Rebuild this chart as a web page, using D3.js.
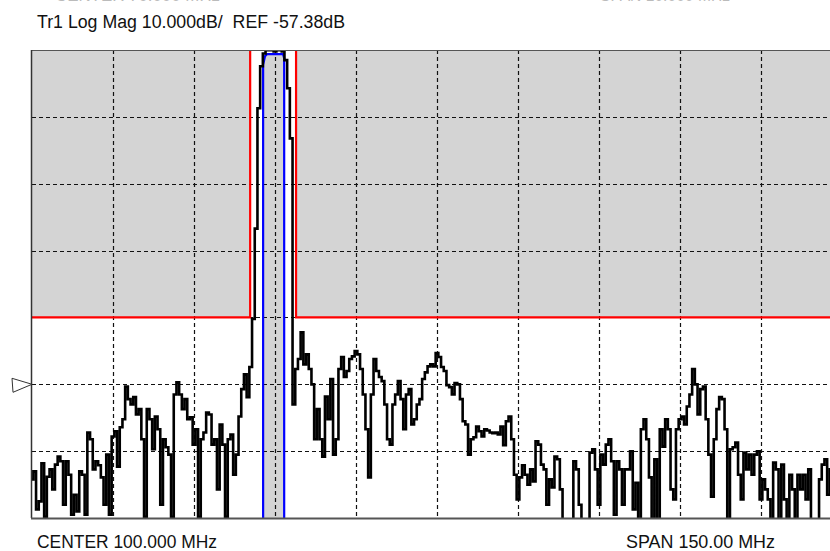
<!DOCTYPE html>
<html>
<head>
<meta charset="utf-8">
<script src="https://cdn.jsdelivr.net/npm/d3@7"></script>
<style>
body { margin: 0; background: #fff; overflow: hidden; }
text { font-family: "Liberation Sans", Arial, sans-serif; }
</style>
</head>
<body>
<div id="chart"></div>
<script>
// sweep: 25..175 MHz, 0.5 MHz per point
var startMHz = 25, stopMHz = 175, stepMHz = 0.5;
var refDb = -57.38, dbPerDiv = 10;

var traceDb = [
 -71.6,-70.4,-76.1,-74.9,-69.2,-77.2,-71.2,-70.1,-73.1,-69.4,
 -68.2,-68.9,-75.4,-68.9,-70.9,-76.9,-73.9,-76.4,-70.4,-70.9,
 -76.9,-64.6,-65.6,-70.1,-68.9,-69.5,-71.3,-75.4,-67.9,-76.9,
 -65.2,-64.4,-69.7,-63.8,-62.6,-57.7,-59.6,-60.4,-59.3,-61.9,
 -61.1,-65.6,-77.2,-61.1,-62.6,-67.1,-62.2,-64.1,-75.4,-65.6,
 -66.8,-67.9,-77.2,-58.9,-57.1,-58.9,-61.1,-59.6,-62.6,-62.3,
 -66.4,-64.1,-77.2,-65.6,-64.6,-61.6,-61.9,-66.4,-65.6,-73.1,
 -63.4,-66.4,-77.2,-65.6,-64.9,-70.9,-67.9,-62.2,-58.1,-55.9,
 -59.3,-54.8,-47.6,-34.1,-16.1,-9.8,-7.9,-7.4,-7.4,-7.4,
 -7.6,-7.4,-7.4,-7.6,-8.9,-13.1,-20.6,-60.4,-55.1,-53.6,
 -49.6,-54.4,-52.9,-55.1,-57.4,-65.6,-61.1,-65.6,-68.2,-59.2,
 -62.6,-56.6,-67.9,-65.6,-55.1,-53.3,-56.3,-55.4,-53.6,-53.2,
 -52.4,-52.9,-55.1,-58.9,-64.1,-71.3,-58.9,-53.6,-55.4,-56.3,
 -56.9,-60.4,-65.6,-66.4,-60.4,-58.9,-56.9,-59.6,-64.1,-58.9,
 -58.1,-63.4,-62.6,-60.4,-59.6,-56.6,-55.6,-54.7,-54.4,-54.7,
 -52.7,-53.3,-54.8,-55.4,-57.5,-57.8,-58.9,-57.2,-57.4,-59.6,
 -62.9,-63.4,-67.9,-65.6,-65.3,-63.7,-64.4,-65.2,-64.1,-64.3,
 -64.6,-64.7,-64.6,-64.9,-63.7,-66.5,-62.9,-62.2,-65.6,-70.9,
 -74.6,-71.3,-69.5,-70.9,-72.4,-70.1,-71.9,-65.9,-66.4,-69.4,
 -70.1,-75.4,-71.6,-72.8,-68.2,-68.6,-73.1,-78.4,-79.1,-79.1,
 -77.6,-68.9,-70.1,-75.4,-78.4,-79.1,-78.4,-67.6,-67.1,-70.1,
 -75.4,-67.9,-69.4,-66.4,-65.6,-68.9,-76.9,-68.9,-70.1,-75.4,
 -70.1,-70.1,-67.4,-76.1,-72.1,-78.4,-64.1,-62.6,-65.6,-71.3,
 -78.4,-68.6,-78.4,-64.1,-66.7,-62.6,-64.1,-73.1,-74.6,-64.1,
 -62.6,-62.2,-63.4,-60.7,-58.9,-55.1,-57.4,-61.9,-58.1,-57.7,
 -62.6,-67.9,-74.2,-65.6,-61.1,-59.3,-59.6,-64.1,-78.4,-67.1,
 -66.8,-66.1,-70.9,-74.6,-67.6,-70.1,-67.9,-70.9,-67.9,-67.4,
 -74.6,-71.6,-73.1,-74.6,-78.4,-69.1,-70.1,-79.1,-69.4,-74.6,
 -77.6,-70.9,-73.1,-78.4,-70.9,-73.1,-70.9,-74.6,-70.1,-78.4,
 -78.4,-77.6,-71.6,-69.4,-68.6,-73.9,-70.1,-71.6,-74.6,-70.1,
 -73.1
];

// limit lines
var upperFreq = [25, 65.4, 65.4, 73.9, 73.9, 175];
var upperDb   = [-47.38, -47.38, -7.38, -7.38, -47.38, -47.38];
var lowerFreq = [67.8, 67.8, 68.15, 68.5, 71.5, 71.7, 71.7];
var lowerDb   = [-77.38, -9.6, -8.3, -8.0, -8.0, -8.6, -77.38];

var W = 830, H = 551;
var pLeft = 32, pRight = 842, pTop = 50, pBottom = 518;

var dbTop = refDb + 5 * dbPerDiv, dbBottom = refDb - 2 * dbPerDiv;

var x = d3.scaleLinear().domain([startMHz, stopMHz]).range([pLeft, pRight]);
var y = d3.scaleLinear().domain([dbBottom, dbTop]).range([pBottom, pTop]);

var svg = d3.select("#chart").append("svg")
    .attr("width", W)
    .attr("height", H);

svg.append("clipPath").attr("id", "plot")
  .append("rect")
    .attr("x", pLeft).attr("y", pTop)
    .attr("width", pRight - pLeft).attr("height", pBottom - pTop);

var g = svg.append("g").attr("clip-path", "url(#plot)");

var upper = upperFreq.map(function(f, i) { return [f, upperDb[i]]; });
var lower = lowerFreq.map(function(f, i) { return [f, lowerDb[i]]; });

var line = d3.line()
    .x(function(d) { return x(d[0]); })
    .y(function(d) { return y(d[1]); });

// gray fail regions
g.append("path")
    .attr("d", line(upper.concat([[stopMHz, dbTop], [startMHz, dbTop]])) + "Z")
    .attr("fill", "#d4d4d4");
g.append("path")
    .attr("d", line(lower) + "Z")
    .attr("fill", "#d4d4d4");

// grid
var xDivs = d3.range(1, 10).map(function(k) { return startMHz + k * (stopMHz - startMHz) / 10; });
var yDivs = d3.range(1, 7).map(function(k) { return dbBottom + k * dbPerDiv; });

g.selectAll(".vg").data(xDivs).enter().append("line")
    .attr("x1", function(d) { return Math.round(x(d)) + 0.5; })
    .attr("x2", function(d) { return Math.round(x(d)) + 0.5; })
    .attr("y1", pTop).attr("y2", pBottom)
    .attr("stroke", "#111").attr("stroke-width", 1.2)
    .attr("stroke-dasharray", "4,3");

g.selectAll(".hg").data(yDivs).enter().append("line")
    .attr("x1", pLeft).attr("x2", pRight)
    .attr("y1", function(d) { return Math.round(y(d)) + 0.5; })
    .attr("y2", function(d) { return Math.round(y(d)) + 0.5; })
    .attr("stroke", "#111").attr("stroke-width", 1.2)
    .attr("stroke-dasharray", "4,3");

// limit lines
g.append("path")
    .attr("d", line(upper))
    .attr("fill", "none").attr("stroke", "#ff0000").attr("stroke-width", 2.2);
g.append("path")
    .attr("d", line(lower))
    .attr("fill", "none").attr("stroke", "#0000ff").attr("stroke-width", 2.2);

// trace
g.append("path")
    .datum(traceDb)
    .attr("d", d3.line()
        .curve(d3.curveStep)
        .x(function(d, i) { return x(startMHz + i * stepMHz); })
        .y(function(d) { return y(d); }))
    .attr("fill", "none")
    .attr("stroke", "#000")
    .attr("stroke-width", 2.6)
    .attr("stroke-linejoin", "miter");

// frame
svg.append("line").attr("x1", pLeft).attr("x2", pRight).attr("y1", pTop + 0.5).attr("y2", pTop + 0.5)
    .attr("stroke", "#555").attr("stroke-width", 1);
svg.append("line").attr("x1", pLeft - 0.5).attr("x2", pLeft - 0.5).attr("y1", pTop).attr("y2", pBottom)
    .attr("stroke", "#333").attr("stroke-width", 1.5);
svg.append("line").attr("x1", pLeft - 1).attr("x2", pRight).attr("y1", pBottom + 0.5).attr("y2", pBottom + 0.5)
    .attr("stroke", "#555").attr("stroke-width", 2);

// reference marker
var ry = y(refDb);
svg.append("path")
    .attr("d", "M12," + (ry - 6) + "L13," + (ry + 8) + "L" + pLeft + "," + ry + "Z")
    .attr("fill", "#fff").attr("stroke", "#333").attr("stroke-width", 1);

// labels
svg.append("text")
    .attr("x", 37).attr("y", 28)
    .attr("font-size", 18)
    .attr("textLength", 308).attr("lengthAdjust", "spacingAndGlyphs")
    .attr("fill", "#111")
    .style("white-space", "pre")
    .text("Tr1 Log Mag 10.000dB/  REF -57.38dB");

svg.append("text")
    .attr("x", 37).attr("y", 548)
    .attr("font-size", 18)
    .attr("textLength", 180).attr("lengthAdjust", "spacingAndGlyphs")
    .attr("fill", "#111")
    .text("CENTER 100.000 MHz");

svg.append("text")
    .attr("x", 626).attr("y", 548)
    .attr("font-size", 18)
    .attr("textLength", 149).attr("lengthAdjust", "spacingAndGlyphs")
    .attr("fill", "#111")
    .text("SPAN 150.00 MHz");

// cut-off labels of the panel above
svg.append("text")
    .attr("x", 55).attr("y", 0.5)
    .attr("font-size", 18)
    .attr("textLength", 165).attr("lengthAdjust", "spacingAndGlyphs")
    .attr("fill", "#bbb")
    .text("CENTER 70.000 MHz");
svg.append("text")
    .attr("x", 600).attr("y", 0.5)
    .attr("font-size", 18)
    .attr("textLength", 130).attr("lengthAdjust", "spacingAndGlyphs")
    .attr("fill", "#bbb")
    .text("SPAN 10.000 MHz");
</script>
</body>
</html>
